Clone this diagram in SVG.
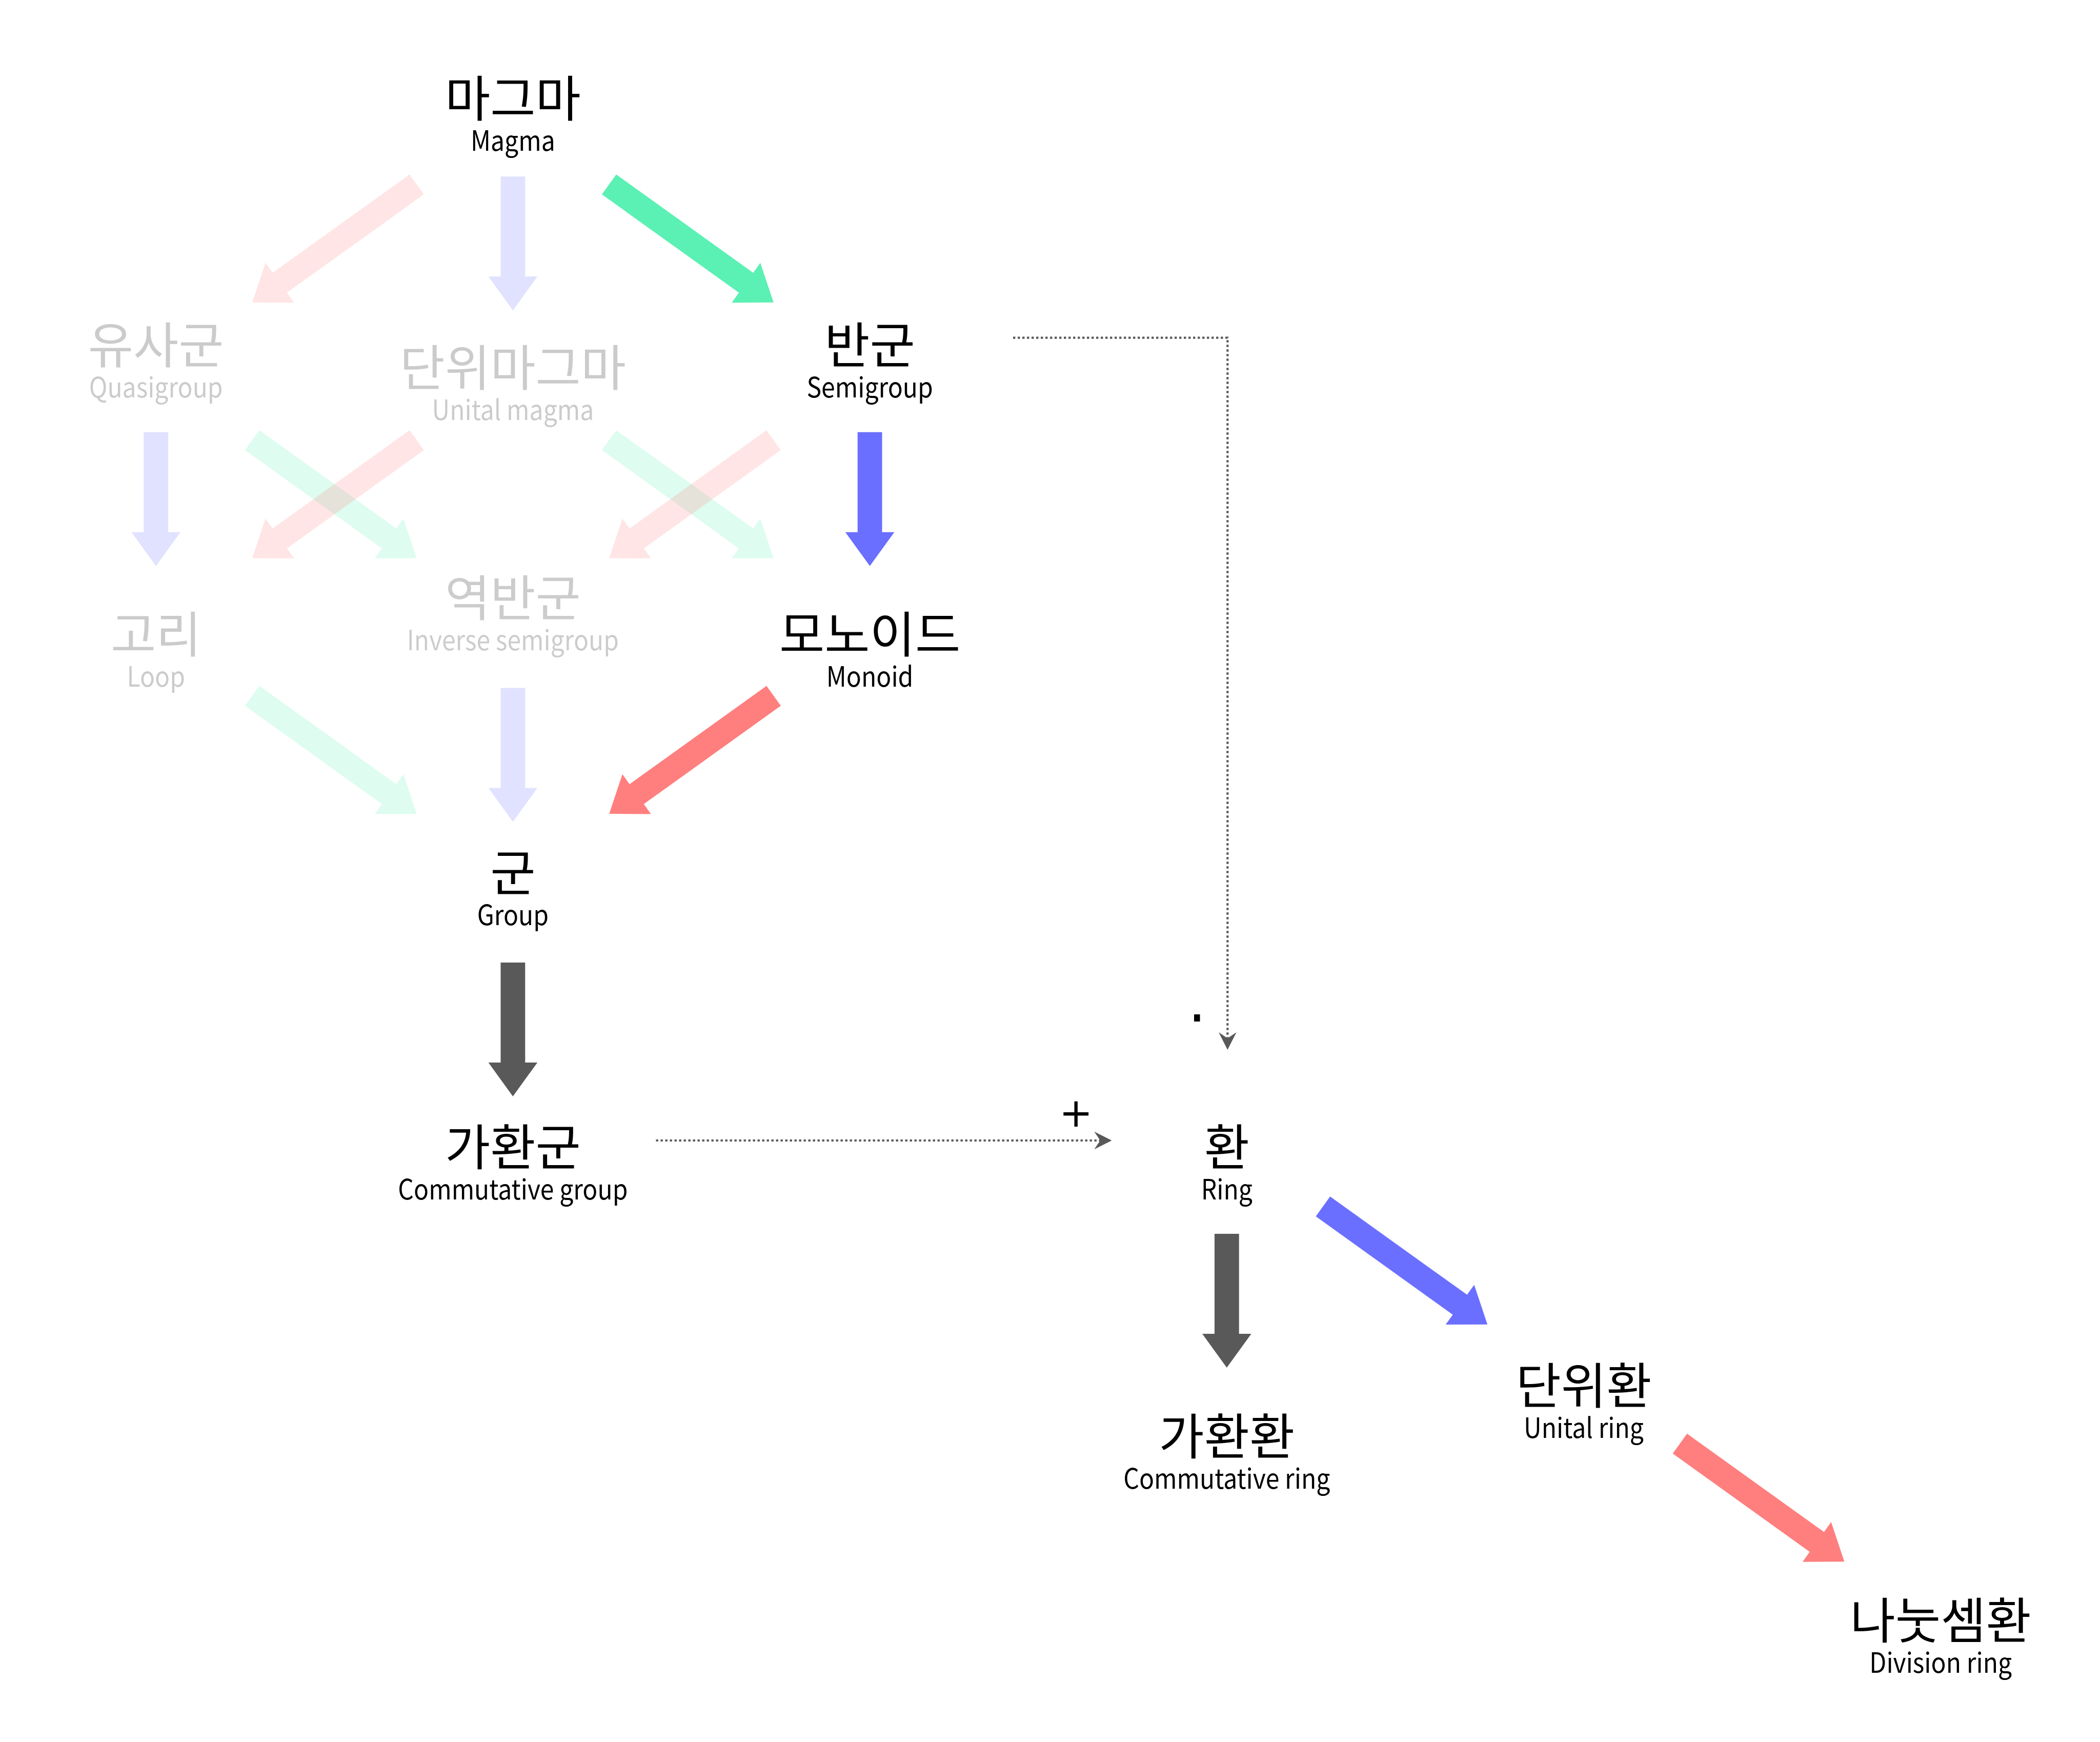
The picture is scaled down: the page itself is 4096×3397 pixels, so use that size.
<svg xmlns="http://www.w3.org/2000/svg" xmlns:xlink="http://www.w3.org/1999/xlink" width="4096" height="3397" viewBox="0 0 4096 3397">
<style>
.ko{font-family:'Noto Sans CJK KR','Noto Sans',sans-serif;font-size:96px;text-anchor:middle;fill:#000}
.en{font-family:'Noto Sans CJK KR','Noto Sans',sans-serif;font-size:54px;text-anchor:middle;fill:#000}
.faded{opacity:0.2}
.lab{font-family:'DejaVu Sans',sans-serif;font-size:78px;text-anchor:middle;fill:#000}
.gr{fill:#5BF0B4}
.bl{fill:#6B6FFF}
.rd{fill:#FF7F7F}
.dk{fill:#595959}
.fa{opacity:0.2}
.dot{fill:none;stroke:#595959;stroke-width:4.2;stroke-dasharray:4.4 4.6}
</style>
<defs>
<path id="av" d="M-23.9,0 H23.9 V195 H47.8 L0,261 L-47.8,195 H-23.9 Z"/>
<path id="ad" d="M0,-23.9 H328.8 V-47.8 L394.8,0 L328.8,47.8 V23.9 H0 Z"/>
<marker id="mh" markerUnits="userSpaceOnUse" viewBox="0 0 34.2 34.7" refX="11.8" refY="17.35" markerWidth="34.2" markerHeight="34.7" orient="auto">
<path d="M0,0 L34.2,17.35 L0,34.7 L11.8,17.35 Z" fill="#595959"/>
</marker>
</defs>
<rect width="4096" height="3397" fill="#fff"/>
<g id="connectors">
<use href="#ad" class="rd fa" transform="translate(812.8,359.7) rotate(144.34)"/>
<use href="#av" class="bl fa" transform="translate(1000.4,344.2)"/>
<use href="#ad" class="gr" transform="translate(1188,359.7) rotate(35.66)"/>
<use href="#av" class="bl fa" transform="translate(304.2,842.8)"/>
<use href="#ad" class="gr fa" transform="translate(491.8,858.3) rotate(35.66)"/>
<use href="#ad" class="rd fa" transform="translate(812.8,858.3) rotate(144.34)"/>
<use href="#ad" class="gr fa" transform="translate(1188,858.3) rotate(35.66)"/>
<use href="#ad" class="rd fa" transform="translate(1509,858.3) rotate(144.34)"/>
<use href="#av" class="bl" transform="translate(1696.6,842.8)"/>
<use href="#ad" class="gr fa" transform="translate(491.8,1356.9) rotate(35.66)"/>
<use href="#av" class="bl fa" transform="translate(1000.4,1341.5)"/>
<use href="#ad" class="rd" transform="translate(1509,1356.9) rotate(144.34)"/>
<use href="#av" class="dk" transform="translate(1000.4,1876.9)"/>
<use href="#av" class="dk" transform="translate(2392.8,2406)"/>
<use href="#ad" class="bl" transform="translate(2580.4,2352.6) rotate(35.66)"/>
<use href="#ad" class="rd" transform="translate(3276.6,2815.2) rotate(35.66)"/>
<path class="dot" d="M1976,658.6 H2394.3 V2024.8" marker-end="url(#mh)"/>
<path class="dot" d="M1279.5,2224 H2146" marker-end="url(#mh)"/>
<text class="lab" x="2334.8" y="2024" style="font-size:112px">·</text>
<text class="lab" x="2098.8" y="2197">+</text>
</g>
<g id="magma"><text class="ko" x="1000.4" y="227">마그마</text><text class="en" transform="translate(1000.4,294) scale(0.89,1)">Magma</text></g>
<g id="quasigroup" class="faded"><text class="ko" x="304.2" y="707.5">유사군</text><text class="en" transform="translate(304.2,774.5) scale(0.89,1)">Quasigroup</text></g>
<g id="unital-magma" class="faded"><text class="ko" x="1000.4" y="752">단위마그마</text><text class="en" transform="translate(1000.4,819) scale(0.89,1)">Unital magma</text></g>
<g id="semigroup"><text class="ko" x="1696.6" y="707.5">반군</text><text class="en" transform="translate(1696.6,774.5) scale(0.89,1)">Semigroup</text></g>
<g id="loop" class="faded"><text class="ko" x="304.2" y="1272">고리</text><text class="en" transform="translate(304.2,1339) scale(0.89,1)">Loop</text></g>
<g id="inverse-semigroup" class="faded"><text class="ko" x="1000.4" y="1201">역반군</text><text class="en" transform="translate(1000.4,1268) scale(0.89,1)">Inverse semigroup</text></g>
<g id="monoid"><text class="ko" x="1696.6" y="1272">모노이드</text><text class="en" transform="translate(1696.6,1339) scale(0.89,1)">Monoid</text></g>
<g id="group"><text class="ko" x="1000.4" y="1736.6">군</text><text class="en" transform="translate(1000.4,1803.6) scale(0.89,1)">Group</text></g>
<g id="commutative-group"><text class="ko" x="1000.4" y="2272">가환군</text><text class="en" transform="translate(1000.4,2339) scale(0.89,1)">Commutative group</text></g>
<g id="ring"><text class="ko" x="2392.8" y="2272">환</text><text class="en" transform="translate(2392.8,2339) scale(0.89,1)">Ring</text></g>
<g id="commutative-ring"><text class="ko" x="2392.8" y="2836">가환환</text><text class="en" transform="translate(2392.8,2903) scale(0.89,1)">Commutative ring</text></g>
<g id="unital-ring"><text class="ko" x="3089" y="2737">단위환</text><text class="en" transform="translate(3089,2804) scale(0.89,1)">Unital ring</text></g>
<g id="division-ring"><text class="ko" x="3785.2" y="3195">나눗셈환</text><text class="en" transform="translate(3785.2,3262) scale(0.89,1)">Division ring</text></g>
</svg>
